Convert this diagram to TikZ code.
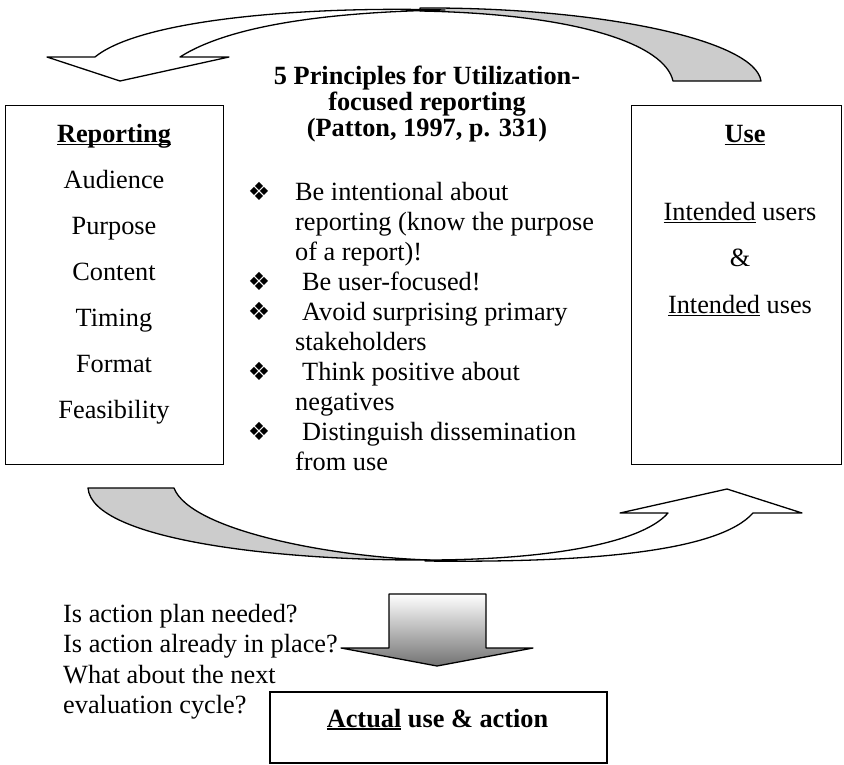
\documentclass[tikz,border=0pt]{standalone}
\usepackage{fontspec}
\setmainfont{Liberation Serif}
\newfontfamily\dingfont{DejaVu Sans}
% underline with an adjustable rule
\newcommand{\undl}[2][1.3pt]{\setbox0\hbox{#2}\rlap{\rule[-3.2pt]{\wd0}{#1}}\box0\relax}
\begin{document}
\begin{tikzpicture}[x=1pt,y=-1pt,
  txt/.style={inner sep=0pt, font=\fontsize{26.3}{30}\selectfont},
  ctxt/.style={txt, anchor=base},
  ltxt/.style={txt, anchor=base west},
  frame/.style={draw=black, line width=1.4pt, inner sep=0pt, anchor=north west},
  ribbon/.style={draw=black, line width=1.3pt, line join=round},
  bul/.style={inner sep=0pt, anchor=base, font=\dingfont\fontsize{25}{25}\selectfont}
]
\useasboundingbox (0,0) rectangle (844,764);

% ---- curved arrow on top (Use -> Reporting)
\draw[ribbon, fill=black!20]
  (420,8) .. controls (600,7) and (755,40) .. (761,81)
  -- (673,81) .. controls (665,45) and (580,14) .. (420,11) -- cycle;
\draw[ribbon, fill=white]
  (120,81) -- (229,57) -- (180,57)
  .. controls (230,25) and (330,12) .. (445,10)
  .. controls (300,6) and (140,20) .. (95,57)
  -- (47,57) -- cycle;

% ---- curved arrow at the bottom (Reporting -> Use)
\draw[ribbon, fill=black!20]
  (88,488) -- (174,488)
  .. controls (190,530) and (330,557) .. (430,560)
  .. controls (280,561) and (92,540) .. (88,488) -- cycle;
\draw[ribbon, fill=white]
  (425,560) .. controls (540,560) and (640,545) .. (668,513)
  -- (620,513) -- (727,489) -- (802,513) -- (753,513)
  .. controls (720,550) and (600,563) .. (425,561) -- cycle;

% ---- boxes
\node[frame, minimum width=218pt, minimum height=359pt] (rep) at (5,105) {};
\node[frame, minimum width=210pt, minimum height=359pt] (use) at (631,105) {};
\node[frame, line width=1.8pt, minimum width=337pt, minimum height=71pt] (act) at (269,691) {};

% ---- Reporting list
\node[ctxt] (repT) at (114,142) {\textbf{\undl[1.5pt]{Reporting}}};
\node[ctxt] (r1) at (114,188) {Audience};
\node[ctxt] (r2) at (114,234) {Purpose};
\node[ctxt] (r3) at (114,280) {Content};
\node[ctxt] (r4) at (114,326) {Timing};
\node[ctxt] (r5) at (114,372) {Format};
\node[ctxt] (r6) at (114,418) {Feasibility};

% ---- Use list
\node[ctxt] (useT) at (745,142) {\textbf{\undl[1.5pt]{Use}}};
\node[ctxt] (u1) at (740,220) {\undl{Intended} users};
\node[ctxt] (u2) at (740,266) {\&};
\node[ctxt] (u3) at (740,313) {\undl{Intended} uses};

% ---- principles
\node[ctxt] (h1) at (427,84) {\textbf{5 Principles for Utilization-}};
\node[ctxt] (h2) at (427,110) {\textbf{focused reporting}};
\node[ctxt] (h3) at (427,136) {\textbf{(Patton, 1997, p. 331)}};

\foreach \yy/\nm in {200/b1,290/b2,320/b3,380/b4,440/b5}
  \node[bul] (\nm) at (259,\yy) {❖};
\node[ltxt] (p1) at (295,200) {Be intentional about};
\node[ltxt] (p1b) at (295,230) {reporting (know the purpose};
\node[ltxt] (p1c) at (295,260) {of a report)!};
\node[ltxt] (p2) at (302,290) {Be user-focused!};
\node[ltxt] (p3) at (302,320) {Avoid surprising primary};
\node[ltxt] (p3b) at (295,350) {stakeholders};
\node[ltxt] (p4) at (302,380) {Think positive about};
\node[ltxt] (p4b) at (295,410) {negatives};
\node[ltxt] (p5) at (302,440) {Distinguish dissemination};
\node[ltxt] (p5b) at (295,470) {from use};

% ---- questions and action
\node[ltxt] (q1) at (63,622) {Is action plan needed?};
\node[ltxt] (q2) at (63,652) {Is action already in place?};
\node[ltxt] (q3) at (63,683) {What about the next};
\node[ltxt] (q4) at (63,713) {evaluation cycle?};

\draw[ribbon, top color=white, bottom color=black!55]
  (389,594) -- (486,594) -- (486,648) -- (533,648) -- (437,666)
  -- (341,648) -- (389,648) -- cycle;

\node[ctxt] (actT) at (437.5,727) {\textbf{\undl[1.8pt]{Actual} use \& action}};
\end{tikzpicture}
\end{document}
